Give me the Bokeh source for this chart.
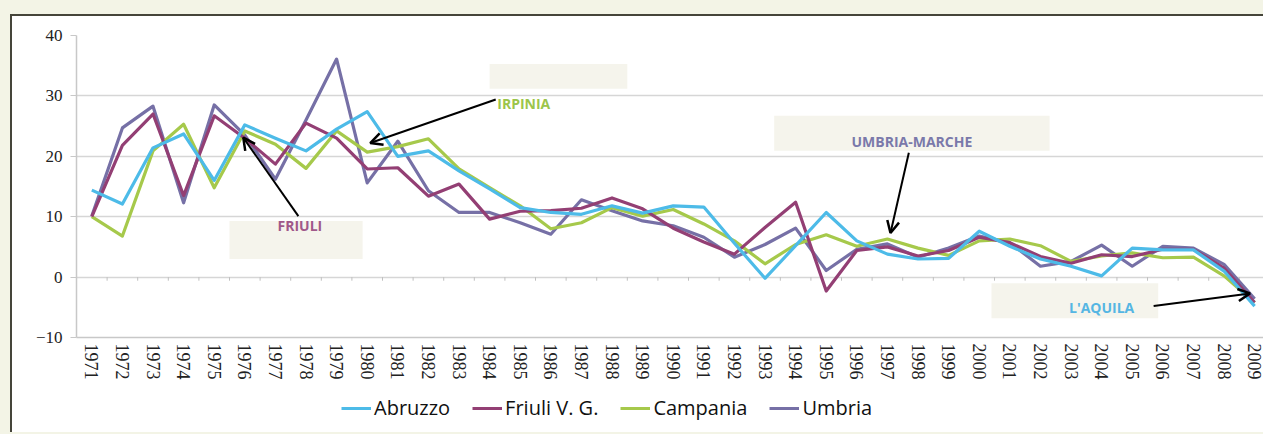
from bokeh.plotting import figure
from bokeh.layouts import column
from bokeh.models import (Range1d, FixedTicker, Legend, LegendItem, BoxAnnotation,
                          Label, Arrow, OpenHead, ColumnDataSource)
from bokeh.embed import file_html
from bokeh.resources import INLINE

# ---------------- data ----------------
years = list(range(1971, 2010))
abruzzo = [14.4, 12.1, 21.4, 23.7, 16.0, 25.2, 23.0, 20.9, 24.5, 27.4, 20.0, 20.9, 17.6,
           14.6, 11.5, 10.7, 10.4, 11.8, 10.6, 11.8, 11.6, 5.6, -0.2, 5.2, 10.7, 6.0,
           3.8, 3.0, 3.1, 7.6, 5.1, 3.0, 1.8, 0.2, 4.8, 4.5, 4.5, 1.0, -4.8]
friuli = [10.0, 21.8, 27.0, 13.5, 26.7, 23.0, 18.7, 25.5, 23.0, 17.9, 18.1, 13.4, 15.4,
          9.6, 10.9, 11.0, 11.4, 13.1, 11.3, 8.1, 5.8, 3.8, 8.2, 12.4, -2.3, 4.4,
          5.0, 3.5, 4.4, 6.6, 5.7, 3.4, 2.3, 3.7, 3.4, 4.6, 4.6, 1.5, -4.2]
campania = [10.0, 6.8, 20.9, 25.3, 14.8, 24.2, 22.0, 18.0, 24.2, 20.7, 21.6, 22.9, 17.9,
            14.8, 11.8, 8.0, 9.0, 11.5, 10.1, 11.2, 8.8, 6.0, 2.2, 5.4, 7.0, 5.1,
            6.3, 4.8, 3.6, 6.0, 6.3, 5.2, 2.6, 3.5, 4.0, 3.2, 3.3, 0.2, -4.2]
umbria = [10.1, 24.7, 28.3, 12.3, 28.5, 23.5, 16.2, 26.0, 36.1, 15.6, 22.5, 14.3, 10.7,
          10.7, 9.0, 7.1, 12.8, 11.0, 9.3, 8.5, 6.6, 3.3, 5.4, 8.1, 1.1, 4.6,
          5.5, 3.3, 4.8, 6.8, 5.7, 1.8, 2.6, 5.3, 1.8, 5.1, 4.8, 2.1, -3.6]
y_ticks = [-10, 0, 10, 20, 30, 40]
series_names = ["Abruzzo", "Friuli V. G.", "Campania", "Umbria"]
series_colors = ["#4dbbe8", "#933f74", "#a6c94b", "#7670a6"]

# annotations: (label, colour, box [x0,x1,y0,y1], text pos, arrow start, arrow end)
events = [
    ("IRPINIA", "#9cc54a", (1984.0, 1988.5, 31.2, 35.3), (1984.25, 28.7), (1984.2, 29.4), (1980.1, 22.2)),
    ("FRIULI", "#a0588a", (1975.5, 1979.85, 3.0, 9.3), (1977.8, 8.6), (1977.75, 10.1), (1975.95, 23.1)),
    ("UMBRIA-MARCHE", "#7a79aa", (1993.3, 2002.3, 20.9, 26.7), (1997.8, 22.4), (1997.7, 20.6), (1997.1, 7.3)),
    ("L'AQUILA", "#55b6e3", (2000.4, 2005.85, -6.8, -1.0), (2004.0, -5.0), (2005.7, -4.8), (2008.85, -2.7)),
]

p = figure(frame_width=1187, frame_height=302, output_backend="svg", toolbar_location=None,
           x_range=Range1d(1970.5, 2009.29), y_range=Range1d(-10, 40),
           min_border_left=64, min_border_top=19, min_border_right=0, min_border_bottom=0)
p.background_fill_color = "white"
p.border_fill_color = "white"
p.outline_line_color = None

# grid
p.xgrid.visible = False
p.ygrid.ticker = FixedTicker(ticks=y_ticks)
p.ygrid.grid_line_color = "#d6d6d6"
p.ygrid.grid_line_width = 1.5

# axes
p.yaxis.ticker = FixedTicker(ticks=y_ticks)
p.yaxis.major_label_text_font = "Liberation Serif"
p.yaxis.major_label_text_font_size = "17px"
p.yaxis.major_label_text_color = "#222222"
p.yaxis.axis_line_color = "#c8c8c8"
p.yaxis.axis_line_width = 1.5
p.yaxis.major_tick_line_color = "#c8c8c8"
p.yaxis.major_tick_out = 6
p.yaxis.major_tick_in = 0
p.yaxis.minor_tick_line_color = None
p.yaxis.major_label_standoff = 8

p.xaxis.ticker = FixedTicker(ticks=years)
p.xaxis.major_label_orientation = "vertical"
p.xaxis.major_label_text_font = "Liberation Serif"
p.xaxis.major_label_text_font_size = "18px"
p.xaxis.major_label_text_color = "#222222"
p.xaxis.axis_line_color = "#c8c8c8"
p.xaxis.axis_line_width = 1.5
p.xaxis.major_tick_out = 0
p.xaxis.major_tick_in = 0
p.xaxis.minor_tick_line_color = None
p.xaxis.major_label_standoff = 6

# small category ticks on the zero line
bx = [y + 0.5 for y in years[:-1]]
p.segment(x0=bx, y0=[0] * len(bx), x1=bx, y1=[-0.6] * len(bx), line_color="#c0c0c0", line_width=1)

# annotation boxes
for name, col, box, tpos, a0, a1 in events:
    p.add_layout(BoxAnnotation(left=box[0], right=box[1], bottom=box[2], top=box[3],
                               fill_color="#f5f4ec", fill_alpha=1.0, line_color=None,
                               level="underlay"))

# series (Abruzzo drawn last so it sits on top)
src = ColumnDataSource(dict(year=years, Abruzzo=abruzzo, Friuli=friuli,
                            Campania=campania, Umbria=umbria))
keys = ["Abruzzo", "Friuli", "Campania", "Umbria"]
color_of = dict(zip(keys, series_colors))
for key in ["Umbria", "Campania", "Friuli", "Abruzzo"]:
    p.line("year", key, source=src, line_color=color_of[key], line_width=3.2,
           line_join="round")

for name, col, box, tpos, a0, a1 in events:
    align = "left" if name == "IRPINIA" else "center"
    p.add_layout(Label(x=tpos[0], y=tpos[1], text=name, text_color=col,
                       text_font="Open Sans", text_font_style="bold",
                       text_font_size="14px", text_align=align, text_baseline="middle"))
    p.add_layout(Arrow(x_start=a0[0], y_start=a0[1], x_end=a1[0], y_end=a1[1],
                       line_color="black", line_width=2,
                       end=OpenHead(size=12, line_color="black", line_width=2.5)))

# legend strip: a small figure whose lines lie outside its visible range
leg = figure(frame_width=1251, frame_height=50, output_backend="svg", toolbar_location=None,
             x_range=Range1d(0, 1), y_range=Range1d(0, 1),
             x_axis_location=None, y_axis_location=None,
             min_border_left=0, min_border_right=0, min_border_top=0, min_border_bottom=0)
leg.grid.visible = False
leg.outline_line_color = None
leg.background_fill_color = "white"
leg.border_fill_color = "white"
leg_renderers = {}
for key in keys:
    leg_renderers[key] = leg.line("year", key, source=src, line_color=color_of[key],
                                  line_width=3)
legend = Legend(items=[LegendItem(label=n, renderers=[leg_renderers[k]])
                       for n, k in zip(series_names, keys)],
                orientation="horizontal", location=(329, 11),
                label_text_font="Open Sans", label_text_font_size="20px",
                label_text_color="#111111", glyph_width=30, glyph_height=20,
                label_height=20, label_standoff=3, spacing=22, padding=2, margin=0,
                border_line_color=None, background_fill_alpha=0)
leg.add_layout(legend, "center")

layout = column(p, leg, spacing=0,
                styles={"margin-left": "10px", "margin-top": "14px",
                        "border-left": "2px solid #45453a", "border-top": "2px solid #45453a",
                        "background-color": "white"})

html = file_html(layout, INLINE)
html = html.replace("</head>", "<style>body{background-color:#f3f4e6;}</style></head>", 1)
open("out.html", "w").write(html)
